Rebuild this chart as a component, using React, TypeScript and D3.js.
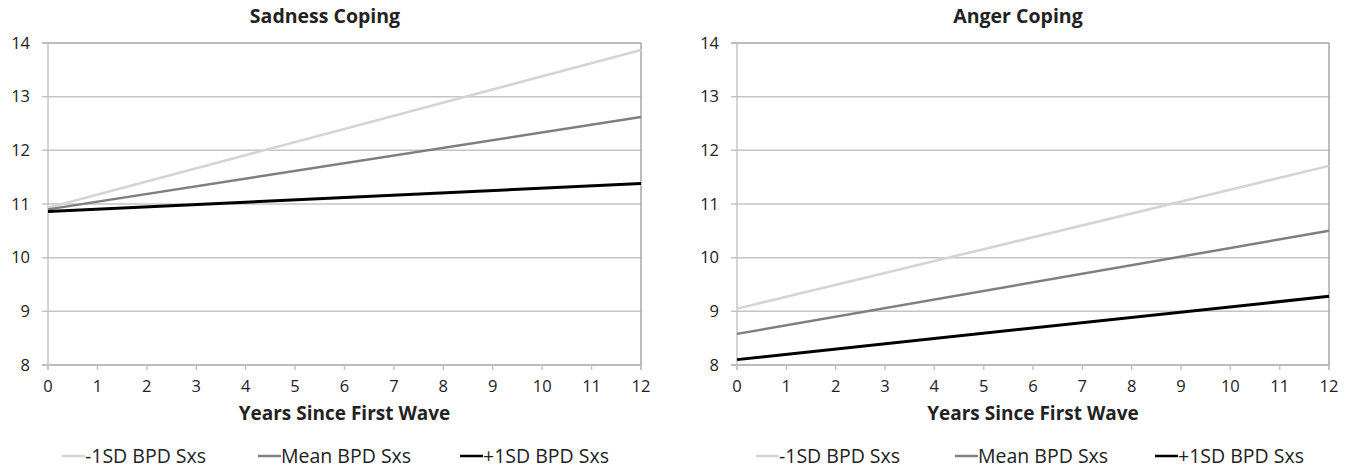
import React, { useEffect, useRef } from 'react'
import * as d3 from 'd3'

// values (years 0 and 12)
const years = [0, 12]
const seriesNames = ['-1SD BPD Sxs', 'Mean BPD Sxs', '+1SD BPD Sxs']
const seriesColors = ['#d4d4d4', '#7f7f7f', '#000000']
const sadnessLow = [10.93, 13.87]
const sadnessMean = [10.9, 12.62]
const sadnessHigh = [10.86, 11.38]
const angerLow = [9.05, 11.71]
const angerMean = [8.58, 10.5]
const angerHigh = [8.1, 9.28]
const yTicks = [8, 9, 10, 11, 12, 13, 14]
const xTicks = [0, 1, 2, 3, 4, 5, 6, 7, 8, 9, 10, 11, 12]

const panels = [
  { title: 'Sadness Coping', titleX: 325, series: [sadnessLow, sadnessMean, sadnessHigh], left: 48, right: 641, legendX: [62, 258, 460] },
  { title: 'Anger Coping', titleX: 1018, series: [angerLow, angerMean, angerHigh], left: 737, right: 1329, legendX: [756, 955, 1155] }
]

const font = '"Open Sans", "Liberation Sans", sans-serif'

function App () {
  const ref = useRef(null)

  useEffect(() => {
    const svg = d3.select(ref.current)
    svg.selectAll('*').remove()

    const top = 43
    const bottom = 365

    panels.forEach((p) => {
      const x = d3.scaleLinear().domain([0, 12]).range([p.left, p.right])
      const y = d3.scaleLinear().domain([8, 14]).range([bottom, top])
      const g = svg.append('g')

      // horizontal gridlines (extend a little left as ticks)
      g.selectAll('.grid')
        .data(yTicks)
        .enter()
        .append('line')
        .attr('x1', p.left - 6)
        .attr('x2', p.right)
        .attr('y1', (d) => y(d))
        .attr('y2', (d) => y(d))
        .attr('stroke', (d) => (d === 8 || d === 14) ? '#a6a6a6' : '#c4c4c4')
        .attr('stroke-width', 1.5)

      // frame sides
      g.append('line')
        .attr('x1', p.left).attr('x2', p.left)
        .attr('y1', top).attr('y2', bottom + 5)
        .attr('stroke', '#c4c4c4').attr('stroke-width', 1.5)
      g.append('line')
        .attr('x1', p.right).attr('x2', p.right)
        .attr('y1', top).attr('y2', bottom + 5)
        .attr('stroke', '#a6a6a6').attr('stroke-width', 1.5)

      // x ticks
      g.selectAll('.xt')
        .data(xTicks)
        .enter()
        .append('line')
        .attr('x1', (d) => x(d)).attr('x2', (d) => x(d))
        .attr('y1', bottom).attr('y2', bottom + 5)
        .attr('stroke', '#c4c4c4').attr('stroke-width', 1.5)

      g.selectAll('.xl')
        .data(xTicks)
        .enter()
        .append('text')
        .attr('x', (d) => x(d))
        .attr('y', 386)
        .attr('dy', '0.35em')
        .attr('text-anchor', 'middle')
        .style('font-family', font)
        .style('font-size', '16.5px')
        .attr('fill', '#222')
        .text((d) => d)

      g.selectAll('.yl')
        .data(yTicks)
        .enter()
        .append('text')
        .attr('x', p.left - 18)
        .attr('y', (d) => y(d))
        .attr('dy', '0.35em')
        .attr('text-anchor', 'end')
        .style('font-family', font)
        .style('font-size', '16.5px')
        .attr('fill', '#222')
        .text((d) => d)

      // lines
      const line = d3.line()
        .x((d, i) => x(years[i]))
        .y((d) => y(d))

      p.series.forEach((s, i) => {
        g.append('path')
          .datum(s)
          .attr('d', line)
          .attr('fill', 'none')
          .attr('stroke', seriesColors[i])
          .attr('stroke-width', i === 2 ? 3 : 2.5)
      })

      // titles
      g.append('text')
        .attr('x', p.titleX)
        .attr('y', 16)
        .attr('dy', '0.35em')
        .attr('text-anchor', 'middle')
        .style('font-family', font)
        .style('font-size', '19.5px')
        .style('font-weight', 'bold')
        .attr('fill', '#222')
        .text(p.title)

      g.append('text')
        .attr('x', (p.left + p.right) / 2)
        .attr('y', 413)
        .attr('dy', '0.35em')
        .attr('text-anchor', 'middle')
        .style('font-family', font)
        .style('font-size', '19px')
        .style('font-weight', 'bold')
        .attr('fill', '#222')
        .text('Years Since First Wave')

      // legend
      seriesNames.forEach((name, i) => {
        const lx = p.legendX[i]
        g.append('line')
          .attr('x1', lx).attr('x2', lx + 23)
          .attr('y1', 456).attr('y2', 456)
          .attr('stroke', seriesColors[i])
          .attr('stroke-width', 2.5)
        g.append('text')
          .attr('x', lx + 23)
          .attr('y', 456)
          .attr('dy', '0.35em')
          .style('font-family', font)
          .style('font-size', '19.5px')
          .attr('fill', '#222')
          .text(name)
      })
    })
  }, [])

  return (
    <svg ref={ref} width={1352} height={470} style={{ position: 'absolute', left: 0, top: 0, background: '#fff' }} />
  )
}

export default App
